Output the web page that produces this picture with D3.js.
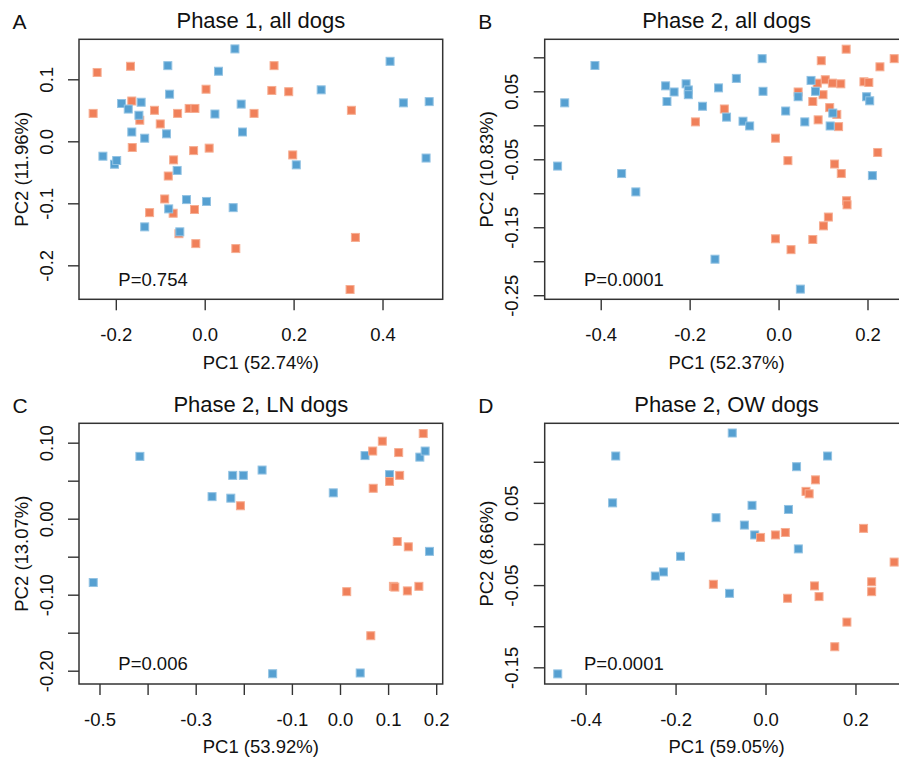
<!DOCTYPE html>
<html>
<head>
<meta charset="utf-8">
<script src="https://cdn.jsdelivr.net/npm/d3@7"></script>
<style>
  html, body { margin: 0; padding: 0; background: #fff; overflow: hidden; }
  svg { display: block; }
  text { font-family: "Liberation Sans", Arial, sans-serif; fill: #111; }
</style>
</head>
<body>
<svg id="chart" width="899" height="758"></svg>
<script>
// PCA scores per panel: [PC1, PC2]
const phase1AllBlue = [[0.068,0.149],[-0.083,0.122],[0.031,0.113],[0.417,0.129],[-0.079,0.076],[0.262,0.083],[-0.187,0.061],[-0.143,0.063],[-0.172,0.052],[-0.148,0.042],[0.023,0.044],[0.082,0.060],[0.447,0.062],[0.505,0.064],[-0.164,0.015],[-0.135,0.005],[-0.086,0.012],[0.085,0.015],[-0.229,-0.024],[-0.203,-0.037],[-0.198,-0.031],[0.498,-0.027],[0.206,-0.038],[-0.062,-0.047],[-0.041,-0.094],[0.004,-0.097],[-0.081,-0.109],[0.064,-0.107],[-0.135,-0.138],[-0.056,-0.146]];
const phase1AllOrange = [[-0.242,0.111],[-0.167,0.121],[-0.251,0.045],[-0.164,0.065],[-0.146,0.034],[-0.113,0.050],[-0.100,0.028],[-0.061,0.045],[-0.035,0.053],[-0.022,0.053],[0.003,0.084],[0.156,0.122],[0.151,0.082],[0.189,0.080],[0.111,0.045],[0.330,0.050],[-0.163,-0.010],[-0.025,-0.015],[0.010,-0.011],[0.198,-0.022],[-0.070,-0.030],[-0.082,-0.056],[-0.090,-0.093],[-0.124,-0.115],[-0.071,-0.116],[-0.023,-0.110],[-0.058,-0.149],[-0.020,-0.165],[0.070,-0.173],[0.339,-0.155],[0.327,-0.239]];

const phase2AllBlue = [[-0.413,0.088],[-0.481,0.033],[-0.037,0.098],[-0.254,0.058],[-0.235,0.049],[-0.251,0.035],[-0.208,0.061],[-0.203,0.052],[-0.203,0.045],[-0.135,0.055],[-0.095,0.069],[-0.035,0.050],[-0.171,0.028],[-0.117,0.012],[-0.080,0.006],[-0.065,-0.001],[0.016,0.021],[0.044,0.042],[0.059,0.005],[0.073,0.066],[0.083,0.050],[0.122,0.018],[0.116,-0.001],[0.198,0.042],[0.205,0.036],[0.211,-0.074],[-0.497,-0.060],[-0.353,-0.071],[-0.321,-0.098],[-0.143,-0.197],[0.049,-0.241]];
const phase2AllOrange = [[0.152,0.112],[0.096,0.095],[0.260,0.098],[0.228,0.086],[0.087,0.062],[0.105,0.067],[0.121,0.062],[0.140,0.061],[0.192,0.064],[0.203,0.063],[0.044,0.049],[0.100,0.045],[0.077,0.035],[-0.122,0.024],[0.115,0.026],[0.131,0.016],[-0.187,0.005],[0.089,0.008],[0.135,-0.002],[-0.007,-0.019],[0.021,-0.052],[0.223,-0.040],[0.126,-0.057],[0.141,-0.071],[0.153,-0.111],[0.154,-0.117],[0.112,-0.135],[0.101,-0.148],[-0.007,-0.167],[0.077,-0.168],[0.028,-0.183]];

const phase2LnBlue = [[-0.416,0.082],[-0.266,0.029],[-0.227,0.027],[-0.223,0.057],[-0.201,0.057],[-0.162,0.064],[-0.014,0.034],[0.052,0.083],[0.103,0.058],[0.166,0.081],[0.177,0.089],[0.186,-0.043],[-0.513,-0.084],[-0.140,-0.204],[0.042,-0.203]];
const phase2LnOrange = [[0.173,0.112],[0.088,0.102],[0.068,0.089],[0.122,0.087],[0.124,0.057],[0.103,0.049],[0.069,0.040],[-0.207,0.017],[0.119,-0.030],[0.142,-0.037],[0.014,-0.096],[0.111,-0.089],[0.114,-0.090],[0.140,-0.095],[0.164,-0.089],[0.064,-0.154]];

const phase2OwBlue = [[-0.074,0.135],[-0.333,0.107],[0.138,0.107],[0.069,0.094],[-0.340,0.050],[-0.030,0.047],[0.051,0.042],[-0.110,0.032],[-0.047,0.023],[-0.024,0.011],[0.073,-0.006],[-0.189,-0.015],[-0.227,-0.034],[-0.245,-0.039],[-0.080,-0.060],[-0.462,-0.158]];
const phase2OwOrange = [[0.111,0.078],[0.090,0.064],[0.097,0.061],[0.218,0.019],[-0.011,0.008],[0.022,0.011],[0.044,0.014],[0.286,-0.022],[-0.116,-0.049],[0.049,-0.066],[0.109,-0.051],[0.119,-0.064],[0.236,-0.046],[0.236,-0.058],[0.181,-0.095],[0.154,-0.125]];

// Panel titles, axis titles and p-values
const panelLetters = ["A", "B", "C", "D"];
const panelTitles = ["Phase 1, all dogs", "Phase 2, all dogs", "Phase 2, LN dogs", "Phase 2, OW dogs"];
const xTitles = ["PC1 (52.74%)", "PC1 (52.37%)", "PC1 (53.92%)", "PC1 (59.05%)"];
const yTitles = ["PC2 (11.96%)", "PC2 (10.83%)", "PC2 (13.07%)", "PC2 (8.66%)"];
const pValues = ["P=0.754", "P=0.0001", "P=0.006", "P=0.0001"];

// Axis limits (R-style 4% padding around the data)
const xLimits = [[-0.2828, 0.5354], [-0.526, 0.292], [-0.5426, 0.2135], [-0.491, 0.3177]];
const yLimits = [[-0.2548, 0.1645], [-0.256, 0.1265], [-0.2175, 0.1255], [-0.1703, 0.1468]];

// Tick positions and labels (blank = tick without label)
const xTickValues = [
  [-0.2, 0.0, 0.2, 0.4],
  [-0.4, -0.2, 0.0, 0.2],
  [-0.5, -0.4, -0.3, -0.2, -0.1, 0.0, 0.1, 0.2],
  [-0.4, -0.2, 0.0, 0.2]
];
const xTickLabels = [
  ["-0.2", "0.0", "0.2", "0.4"],
  ["-0.4", "-0.2", "0.0", "0.2"],
  ["-0.5", "", "-0.3", "", "-0.1", "0.0", "0.1", "0.2"],
  ["-0.4", "-0.2", "0.0", "0.2"]
];
const yTickValues = [
  [-0.2, -0.1, 0.0, 0.1],
  [-0.25, -0.20, -0.15, -0.10, -0.05, 0.00, 0.05, 0.10],
  [-0.20, -0.15, -0.10, -0.05, 0.00, 0.05, 0.10],
  [-0.15, -0.10, -0.05, 0.00, 0.05, 0.10]
];
const yTickLabels = [
  ["-0.2", "-0.1", "0.0", "0.1"],
  ["-0.25", "", "-0.15", "", "-0.05", "", "0.05", ""],
  ["-0.20", "", "-0.10", "", "0.00", "", "0.10"],
  ["-0.15", "", "-0.05", "", "0.05", ""]
];

const blue = "#56A0D1";
const orange = "#F0805A";
const blueEdge = "#93C3E3";
const orangeEdge = "#F6AE93";

const panels = [
  { blueData: phase1AllBlue, orangeData: phase1AllOrange, blueOnTop: true },
  { blueData: phase2AllBlue, orangeData: phase2AllOrange, blueOnTop: true },
  { blueData: phase2LnBlue, orangeData: phase2LnOrange, blueOnTop: false },
  { blueData: phase2OwBlue, orangeData: phase2OwOrange, blueOnTop: false }
];

// Plot-box geometry for the 2x2 grid
const boxW = 363.7;
const boxH = [260, 260.7];
const boxLeft = [79, 544.7];
const boxTop = [39.3, 423.3];

const svg = d3.select("#chart");

panels.forEach((p, i) => {
  const col = i % 2, row = Math.floor(i / 2);
  const L = boxLeft[col], T = boxTop[row], W = boxW, H = boxH[row];

  const x = d3.scaleLinear().domain(xLimits[i]).range([0, W]);
  const y = d3.scaleLinear().domain(yLimits[i]).range([H, 0]);

  const g = svg.append("g").attr("transform", `translate(${L},${T})`);

  // points
  const layers = p.blueOnTop
    ? [[p.orangeData, orange, orangeEdge], [p.blueData, blue, blueEdge]]
    : [[p.blueData, blue, blueEdge], [p.orangeData, orange, orangeEdge]];
  const s = 8;
  layers.forEach(([data, fill, edge]) => {
    g.append("g").selectAll("rect").data(data).join("rect")
      .attr("x", d => x(d[0]) - s / 2)
      .attr("y", d => y(d[1]) - s / 2)
      .attr("width", s).attr("height", s)
      .attr("fill", fill)
      .attr("stroke", edge)
      .attr("stroke-width", 1);
  });

  // box
  g.append("rect").attr("x", 0).attr("y", 0).attr("width", W).attr("height", H)
    .attr("fill", "none").attr("stroke", "#333").attr("stroke-width", 1.5);

  // x axis
  const xa = g.append("g").attr("transform", `translate(0,${H})`)
    .call(d3.axisBottom(x).tickValues(xTickValues[i]).tickSize(11)
      .tickFormat((d, k) => xTickLabels[i][k]));
  xa.select(".domain").remove();
  xa.selectAll(".tick line").attr("stroke", "#333").attr("stroke-width", 1.4);
  xa.selectAll(".tick text").attr("y", 41.7).attr("dy", null)
    .attr("font-size", "18.5px").attr("fill", "#111");

  // y axis
  const ya = g.append("g")
    .call(d3.axisLeft(y).tickValues(yTickValues[i]).tickSize(11)
      .tickFormat((d, k) => yTickLabels[i][k]));
  ya.select(".domain").remove();
  ya.selectAll(".tick line").attr("stroke", "#333").attr("stroke-width", 1.4);
  ya.selectAll(".tick text")
    .attr("x", 0).attr("y", -26.3).attr("dy", null)
    .attr("text-anchor", "middle").attr("transform", "rotate(-90)")
    .attr("font-size", "18.5px").attr("fill", "#111");

  // axis titles
  g.append("text").attr("x", W / 2).attr("y", H + 69.3)
    .attr("text-anchor", "middle").attr("font-size", "18.5px").text(xTitles[i]);
  g.append("text").attr("transform", `translate(-51.5,${H / 2}) rotate(-90)`)
    .attr("text-anchor", "middle").attr("font-size", "18.5px").text(yTitles[i]);

  // panel title and letter
  g.append("text").attr("x", W / 2).attr("y", -11)
    .attr("text-anchor", "middle").attr("font-size", "22px").text(panelTitles[i]);
  g.append("text").attr("x", -66.5).attr("y", -10.3)
    .attr("font-size", "21px").text(panelLetters[i]);

  // p-value
  g.append("text").attr("x", 39.3).attr("y", H - 13.7)
    .attr("font-size", "18.5px").text(pValues[i]);
});
</script>
</body>
</html>
